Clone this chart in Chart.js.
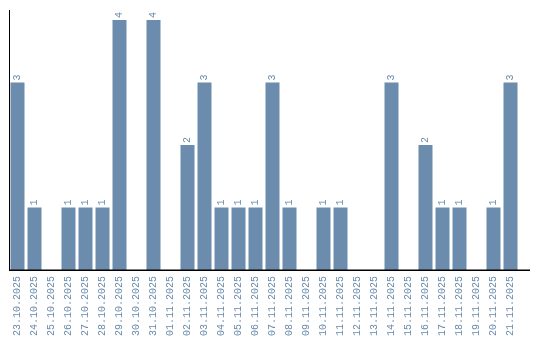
<!DOCTYPE html>
<html>
<head>
<meta charset="utf-8">
<script src="https://cdn.jsdelivr.net/npm/chart.js@4"></script>
<style>
  html, body { margin: 0; padding: 0; background: #fff; }
  #wrap { width: 540px; height: 340px; }
</style>
</head>
<body>
<div id="wrap"><canvas id="chart" width="540" height="340"></canvas></div>
<script>
// Data
const days = [
    '23.10.2025', '24.10.2025', '25.10.2025', '26.10.2025', '27.10.2025',
    '28.10.2025', '29.10.2025', '30.10.2025', '31.10.2025', '01.11.2025',
    '02.11.2025', '03.11.2025', '04.11.2025', '05.11.2025', '06.11.2025',
    '07.11.2025', '08.11.2025', '09.11.2025', '10.11.2025', '11.11.2025',
    '12.11.2025', '13.11.2025', '14.11.2025', '15.11.2025', '16.11.2025',
    '17.11.2025', '18.11.2025', '19.11.2025', '20.11.2025', '21.11.2025'
];
const counts = [
    3, 1, 0, 1, 1,
    1, 4, 0, 4, 0,
    2, 3, 1, 1, 1,
    3, 1, 0, 1, 1,
    0, 0, 3, 0, 2,
    1, 1, 0, 1, 3
];

const BAR_COLOR = '#6b8cad';
const TEXT_COLOR = '#6a8aab';
const MONO = '"Liberation Mono", monospace';

// Value labels above bars, rotated like the date labels
const valueLabels = {
    id: 'valueLabels',
    afterDatasetsDraw(chart) {
        const ctx = chart.ctx;
        const meta = chart.getDatasetMeta(0);
        ctx.save();
        ctx.fillStyle = TEXT_COLOR;
        ctx.font = '10px ' + MONO;
        ctx.textAlign = 'left';
        ctx.textBaseline = 'middle';
        meta.data.forEach((bar, i) => {
            const v = counts[i];
            if (!v) return;
            ctx.save();
            ctx.translate(bar.x, bar.y - 2);
            ctx.rotate(-Math.PI / 2);
            ctx.fillText(String(v), 0, 0);
            ctx.restore();
        });
        ctx.restore();
    }
};

// Baseline runs a bit past the last category
const baseline = {
    id: 'baseline',
    afterDraw(chart) {
        const ctx = chart.ctx;
        const area = chart.chartArea;
        ctx.save();
        ctx.strokeStyle = '#000';
        ctx.lineWidth = 1.5;
        ctx.beginPath();
        ctx.moveTo(area.left, area.bottom + 0.25);
        ctx.lineTo(chart.width - 10, area.bottom + 0.25);
        ctx.stroke();
        ctx.restore();
    }
};

new Chart(document.getElementById('chart'), {
    type: 'bar',
    data: {
        labels: days,
        datasets: [{
            data: counts,
            backgroundColor: BAR_COLOR,
            borderWidth: 0,
            categoryPercentage: 1,
            barPercentage: 14 / 17
        }]
    },
    options: {
        responsive: false,
        animation: false,
        events: [],
        layout: { padding: { top: 10, left: 9, right: 21, bottom: 0 } },
        plugins: {
            legend: { display: false },
            tooltip: { enabled: false }
        },
        scales: {
            x: {
                grid: { display: false, drawTicks: false },
                border: { display: false },
                ticks: {
                    color: TEXT_COLOR,
                    font: { family: MONO, size: 10 },
                    minRotation: 90,
                    maxRotation: 90,
                    autoSkip: false,
                    padding: 6
                },
                afterFit(scale) { scale.height = 70; }
            },
            y: {
                min: 0,
                max: 4.16,
                grid: { display: false },
                border: { display: true, color: '#000', width: 1 },
                ticks: { display: false },
                afterFit(scale) { scale.width = 0; }
            }
        }
    },
    plugins: [valueLabels, baseline]
});
</script>
</body>
</html>
